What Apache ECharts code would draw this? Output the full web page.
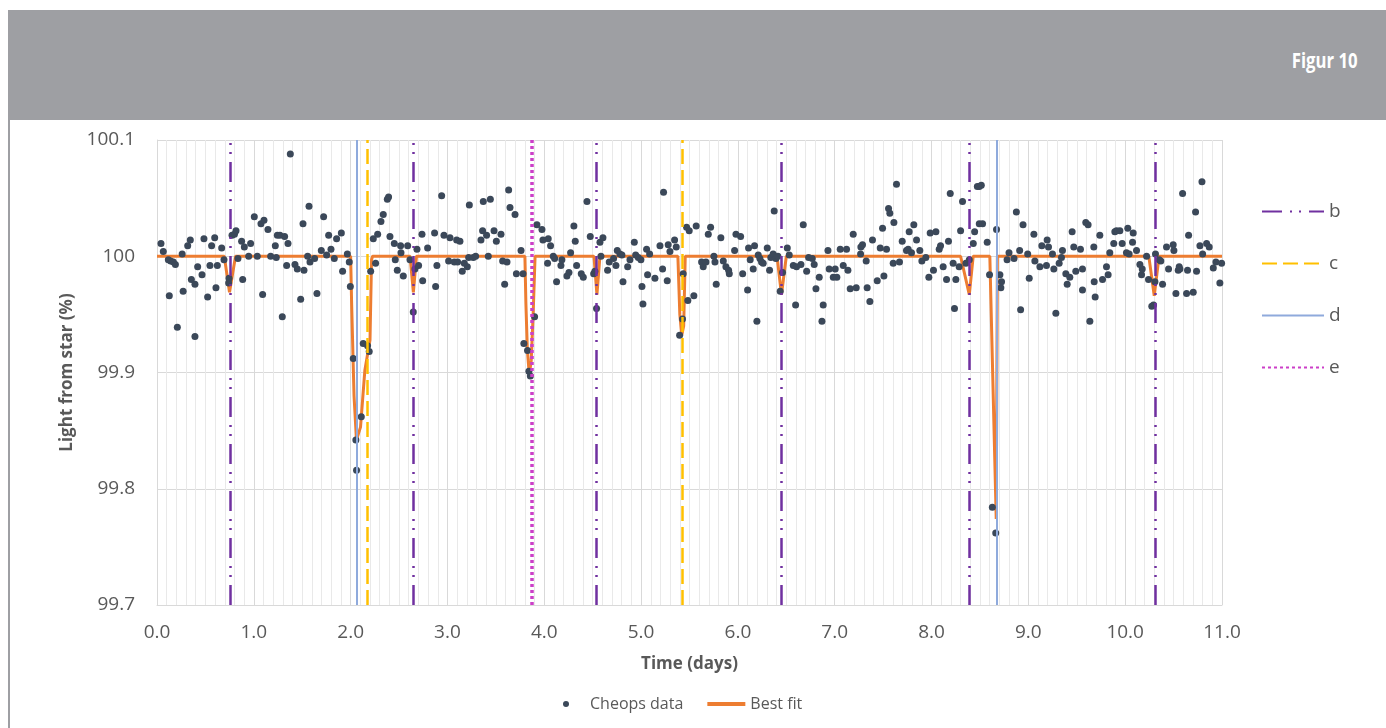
<!DOCTYPE html>
<html>
<head>
<meta charset="utf-8">
<title>Figur 10</title>
<script src="https://cdn.jsdelivr.net/npm/echarts@6/dist/echarts.min.js"></script>
<style>
    html, body { margin: 0; padding: 0; background: #fff; }
    #page { position: relative; width: 1386px; height: 728px; overflow: hidden; font-family: "Open Sans", sans-serif; }
    #header { position: absolute; left: 8px; top: 10px; width: 1378px; height: 110px; background: #9e9fa3; }
    #header span { position: absolute; right: 28px; top: 34px; color: #fff; font-weight: bold; font-size: 22px;
        transform: scaleX(0.76); transform-origin: right center; white-space: nowrap; }
    #edge { position: absolute; left: 8px; top: 120px; width: 2px; height: 608px; background: #9e9fa3; }
    #main { position: absolute; left: 0; top: 0; width: 1386px; height: 728px; }
</style>
</head>
<body>
<div id="page">
    <div id="main"></div>
    <div id="header"><span>Figur 10</span></div>
    <div id="edge"></div>
</div>
<script>
// transit times of the planets (days)
var bTimes = [0.756, 2.648, 4.544, 6.45, 8.394, 10.31];
var cTimes = [2.175, 5.435];
var dTimes = [2.064, 8.672];
var eTimes = [3.87];

// best fit model [time, light %]
var fitPoints = [
    [0.0, 100], [0.695, 100], [0.749, 99.969], [0.811, 100],
    [2.0, 100], [2.01, 99.96], [2.035, 99.88], [2.06, 99.842], [2.102, 99.853],
    [2.147, 99.902], [2.2, 99.928], [2.216, 99.997], [2.226, 100],
    [2.614, 100], [2.648, 99.969], [2.68, 100],
    [3.80, 100], [3.81, 99.96], [3.825, 99.92], [3.845, 99.898], [3.865, 99.91],
    [3.885, 99.95], [3.905, 100],
    [4.513, 100], [4.544, 99.967], [4.575, 100],
    [5.38, 100], [5.40, 99.95], [5.42, 99.932], [5.44, 99.94], [5.456, 100],
    [6.404, 100], [6.45, 99.967], [6.50, 100],
    [8.30, 100], [8.39, 99.967], [8.43, 100],
    [8.602, 100], [8.668, 99.774], [8.68, 100],
    [10.244, 100], [10.30, 99.966], [10.35, 100],
    [11.0, 100]
];

// Cheops measurements [time, light %]
var cheopsPoints = [
    [0.041,100.011],[0.065,100.004],[0.117,99.997],[0.127,99.966],[0.141,99.996],[0.169,99.995],
    [0.19,99.993],[0.21,99.939],[0.26,100.002],[0.27,99.97],[0.317,100.009],[0.344,100.014],
    [0.355,99.98],[0.392,99.976],[0.392,99.931],[0.42,99.991],[0.465,99.984],[0.485,100.015],
    [0.523,99.965],[0.547,99.992],[0.564,100.009],[0.596,100.016],[0.609,99.973],[0.623,99.992],
    [0.668,100.007],[0.692,99.997],[0.74,99.977],[0.744,99.981],[0.775,100.018],[0.8,100.019],
    [0.816,100.022],[0.836,99.998],[0.874,100.013],[0.885,99.98],[0.902,100.008],[0.947,100.0],
    [0.967,100.011],[1.005,100.034],[1.036,100.0],[1.074,100.028],[1.091,99.967],[1.105,100.031],
    [1.146,100.023],[1.174,100.0],[1.222,100.009],[1.232,99.999],[1.243,100.018],[1.27,100.018],
    [1.294,99.948],[1.318,100.017],[1.339,99.992],[1.353,100.011],[1.377,100.088],[1.425,99.993],
    [1.449,99.989],[1.484,99.963],[1.508,100.028],[1.518,99.988],[1.556,100.0],[1.57,100.043],
    [1.58,99.995],[1.628,99.998],[1.652,99.968],[1.697,100.005],[1.721,100.034],[1.752,100.001],
    [1.773,100.018],[1.797,100.006],[1.831,99.998],[1.855,100.015],[1.904,100.02],[1.917,99.987],
    [1.966,100.002],[1.986,99.995],[1.997,99.974],[2.027,99.912],[2.054,99.842],[2.061,99.816],
    [2.11,99.862],[2.13,99.925],[2.175,99.923],[2.192,99.918],[2.207,99.987],[2.234,100.015],
    [2.258,99.994],[2.279,100.019],[2.313,100.03],[2.337,100.036],[2.379,100.049],[2.392,100.051],
    [2.406,100.017],[2.451,100.011],[2.461,99.997],[2.482,99.988],[2.516,100.009],[2.52,100.003],
    [2.544,99.983],[2.589,100.009],[2.613,99.997],[2.647,99.952],[2.664,99.989],[2.685,100.006],
    [2.702,99.992],[2.737,100.019],[2.744,99.979],[2.795,100.007],[2.867,100.02],[2.878,99.974],
    [2.891,99.992],[2.94,100.052],[2.964,100.018],[3.012,99.996],[3.026,100.016],[3.071,99.995],
    [3.095,100.014],[3.105,99.995],[3.129,100.013],[3.153,99.987],[3.174,99.994],[3.205,99.991],
    [3.219,99.999],[3.226,100.044],[3.267,99.999],[3.291,100.0],[3.346,100.014],[3.363,100.022],
    [3.37,100.047],[3.404,100.018],[3.422,100.0],[3.443,100.049],[3.481,100.022],[3.505,100.013],
    [3.553,100.019],[3.57,99.996],[3.591,99.976],[3.615,99.995],[3.632,100.057],[3.646,100.042],
    [3.698,100.036],[3.712,99.985],[3.76,100.005],[3.781,99.985],[3.789,99.925],[3.827,99.919],
    [3.841,99.901],[3.856,99.897],[3.9,99.948],[3.924,100.027],[3.976,100.023],[3.986,100.014],
    [4.034,99.994],[4.041,100.015],[4.065,100.009],[4.093,100.0],[4.107,99.998],[4.127,99.978],
    [4.172,99.992],[4.182,99.997],[4.234,99.983],[4.255,99.986],[4.272,100.003],[4.306,100.026],
    [4.32,100.013],[4.334,99.992],[4.382,99.985],[4.403,99.982],[4.441,100.047],[4.475,100.017],
    [4.51,99.985],[4.523,99.987],[4.54,99.955],[4.575,100.012],[4.585,100.0],[4.606,100.016],
    [4.654,99.988],[4.671,99.995],[4.716,99.998],[4.74,99.992],[4.754,100.005],[4.781,100.002],
    [4.802,100.001],[4.813,99.978],[4.861,99.991],[4.885,99.997],[4.93,100.012],[4.944,100.001],
    [4.971,99.999],[4.998,99.997],[5.009,99.974],[5.019,99.959],[5.057,100.006],[5.067,99.984],
    [5.088,100.002],[5.143,99.981],[5.195,100.009],[5.222,99.989],[5.232,100.055],[5.27,99.979],
    [5.28,100.01],[5.298,100.004],[5.346,100.014],[5.363,100.008],[5.398,99.932],[5.428,99.946],
    [5.435,99.985],[5.47,100.025],[5.483,99.962],[5.497,100.022],[5.545,99.966],[5.569,100.026],
    [5.625,99.995],[5.642,99.991],[5.67,99.995],[5.694,100.019],[5.718,100.025],[5.752,100.0],
    [5.763,99.995],[5.776,99.976],[5.824,100.016],[5.849,99.996],[5.876,99.991],[5.904,99.988],
    [5.911,99.985],[5.966,100.005],[5.98,100.019],[6.028,100.017],[6.049,99.985],[6.1,99.971],
    [6.11,100.007],[6.127,99.997],[6.158,99.989],[6.172,100.009],[6.196,99.944],[6.21,100.001],
    [6.227,99.998],[6.244,99.995],[6.261,99.994],[6.303,100.007],[6.327,99.988],[6.34,99.999],
    [6.364,100.002],[6.375,100.039],[6.392,99.998],[6.413,100.0],[6.437,99.97],[6.461,99.986],
    [6.51,100.007],[6.53,100.001],[6.572,99.992],[6.596,99.958],[6.606,99.991],[6.651,99.993],
    [6.675,100.027],[6.71,99.987],[6.73,99.999],[6.768,99.998],[6.788,99.993],[6.806,99.972],
    [6.84,99.982],[6.868,99.944],[6.881,99.958],[6.93,100.005],[6.943,99.989],[6.985,99.982],
    [7.005,99.989],[7.022,99.982],[7.057,100.006],[7.088,99.992],[7.122,100.006],[7.136,99.988],
    [7.16,99.972],[7.191,100.019],[7.222,99.973],[7.267,100.002],[7.27,100.008],[7.287,100.01],
    [7.325,99.996],[7.335,99.973],[7.363,99.961],[7.39,100.014],[7.439,99.979],[7.47,100.007],
    [7.494,100.024],[7.508,99.983],[7.535,100.006],[7.556,100.041],[7.569,100.037],[7.604,99.994],
    [7.611,100.029],[7.638,100.062],[7.669,99.995],[7.697,100.013],[7.741,100.005],[7.759,100.006],
    [7.769,100.021],[7.793,100.003],[7.817,100.027],[7.845,100.014],[7.879,100.005],[7.9,99.996],
    [7.941,99.999],[7.972,99.982],[7.986,100.02],[8.02,99.988],[8.045,100.021],[8.079,100.006],
    [8.093,100.009],[8.12,99.991],[8.155,99.98],[8.175,100.013],[8.193,100.054],[8.223,99.994],
    [8.237,99.955],[8.251,99.98],[8.285,99.991],[8.3,100.022],[8.32,100.047],[8.355,99.994],
    [8.39,99.997],[8.431,100.011],[8.445,100.021],[8.473,100.06],[8.493,100.06],[8.514,100.061],
    [8.493,100.028],[8.527,100.028],[8.575,100.012],[8.599,99.984],[8.628,99.784],[8.663,99.762],
    [8.671,100.023],[8.706,99.984],[8.716,99.973],[8.723,99.978],[8.78,99.997],[8.8,100.003],
    [8.852,99.998],[8.876,100.038],[8.91,100.005],[8.92,99.954],[8.945,100.027],[8.993,100.002],
    [9.009,99.981],[9.057,100.019],[9.067,99.996],[9.119,99.991],[9.139,100.009],[9.187,99.992],
    [9.194,100.014],[9.208,100.008],[9.249,100.002],[9.263,99.989],[9.284,99.951],[9.318,99.994],
    [9.342,99.999],[9.352,100.005],[9.387,99.985],[9.401,99.976],[9.428,99.982],[9.452,100.021],
    [9.469,100.008],[9.49,99.987],[9.538,100.006],[9.559,99.989],[9.559,99.971],[9.593,100.029],
    [9.617,100.027],[9.635,99.944],[9.676,100.008],[9.68,99.978],[9.69,99.965],[9.738,100.018],
    [9.766,99.98],[9.807,99.991],[9.824,99.984],[9.841,100.003],[9.882,100.011],[9.893,100.021],
    [9.91,100.022],[9.945,100.022],[9.969,100.011],[10.013,100.003],[10.027,100.024],[10.041,100.002],
    [10.076,100.012],[10.083,100.02],[10.117,100.005],[10.152,99.993],[10.169,99.984],[10.176,99.989],
    [10.221,100.0],[10.241,99.98],[10.275,99.957],[10.293,99.958],[10.307,99.978],[10.313,100.002],
    [10.351,99.997],[10.368,99.996],[10.386,99.976],[10.427,100.008],[10.448,99.989],[10.496,100.01],
    [10.503,100.005],[10.524,99.968],[10.548,99.988],[10.558,99.991],[10.565,99.989],[10.593,100.054],
    [10.634,99.968],[10.644,99.988],[10.655,100.018],[10.703,99.969],[10.727,100.038],[10.737,99.987],
    [10.772,100.009],[10.793,100.064],[10.8,100.002],[10.841,100.011],[10.868,100.008],[10.91,99.99],
    [10.937,99.995],[10.978,99.977],[10.996,99.994]
];

var txtColor = '#595959';
var font = '"Open Sans", sans-serif';

function transitSeries(name, times, style) {
    return {
        name: name,
        type: 'line',
        data: [],
        symbol: 'none',
        lineStyle: style,
        itemStyle: { color: style.color },
        z: 2,
        markLine: {
            silent: true,
            symbol: ['none', 'none'],
            label: { show: false },
            lineStyle: style,
            emphasis: { disabled: true },
            data: times.map(function (t) { return { xAxis: t }; })
        }
    };
}

var myChart = echarts.init(document.getElementById('main'));

var option = {
    animation: false,
    textStyle: { fontFamily: font },
    grid: { left: 157, right: 164, top: 140, bottom: 123 },
    legend: [
        {
            orient: 'vertical',
            left: 1256,
            top: 197,
            itemWidth: 62,
            itemHeight: 14,
            itemGap: 33,
            itemStyle: { opacity: 0 },
            textStyle: { color: txtColor, fontSize: 19, fontFamily: font },
            data: ['b', 'c', 'd', 'e']
        },
        {
            orient: 'horizontal',
            left: 558,
            top: 691,
            itemWidth: 38,
            itemHeight: 6,
            itemGap: 22,
            textStyle: { color: txtColor, fontSize: 16, fontFamily: font },
            data: [
                { name: 'Cheops data', icon: 'circle' },
                { name: 'Best fit', itemStyle: { opacity: 0 }, lineStyle: { width: 4 } }
            ]
        }
    ],
    xAxis: {
        type: 'value',
        min: 0,
        max: 11,
        interval: 1,
        name: 'Time (days)',
        nameLocation: 'middle',
        nameGap: 51,
        nameTextStyle: { color: txtColor, fontSize: 17, fontWeight: 'bold', fontFamily: font },
        axisLine: { show: true, lineStyle: { color: '#d9d9d9' } },
        axisTick: { show: false },
        axisLabel: {
            color: txtColor, fontSize: 19, margin: 18, fontFamily: font,
            formatter: function (v) { return v.toFixed(1); }
        },
        splitLine: { show: true, lineStyle: { color: '#d9d9d9' } },
        minorTick: { show: false, splitNumber: 10 },
        minorSplitLine: { show: true, lineStyle: { color: '#e9e9e9' } }
    },
    yAxis: {
        type: 'value',
        min: 99.7,
        max: 100.1,
        interval: 0.1,
        name: 'Light from star (%)',
        nameLocation: 'middle',
        nameGap: 76,
        nameTextStyle: { color: txtColor, fontSize: 17, fontWeight: 'bold', fontFamily: font },
        axisLine: { show: true, lineStyle: { color: '#d9d9d9' } },
        axisTick: { show: false },
        axisLabel: {
            color: txtColor, fontSize: 19, margin: 22, fontFamily: font,
            formatter: function (v) { return String(Math.round(v * 10) / 10); }
        },
        splitLine: { show: true, lineStyle: { color: '#d9d9d9' } }
    },
    series: [
        transitSeries('b', bTimes, { color: '#7030a0', width: 2.5, type: [20, 8, 2, 7, 2, 8] }),
        transitSeries('c', cTimes, { color: '#ffc000', width: 2.5, type: [15, 6] }),
        transitSeries('d', dTimes, { color: '#8faadc', width: 2, type: 'solid' }),
        transitSeries('e', eTimes, { color: '#cc3fc8', width: 3.5, type: [3, 3] }),
        {
            name: 'Best fit',
            type: 'line',
            data: fitPoints,
            symbol: 'none',
            lineStyle: { color: '#ed7d31', width: 3 },
            itemStyle: { color: '#ed7d31' },
            z: 3
        },
        {
            name: 'Cheops data',
            type: 'scatter',
            data: cheopsPoints,
            symbolSize: 7,
            itemStyle: { color: '#3b4859', opacity: 1 },
            z: 4
        }
    ]
};

myChart.setOption(option);
</script>
</body>
</html>
